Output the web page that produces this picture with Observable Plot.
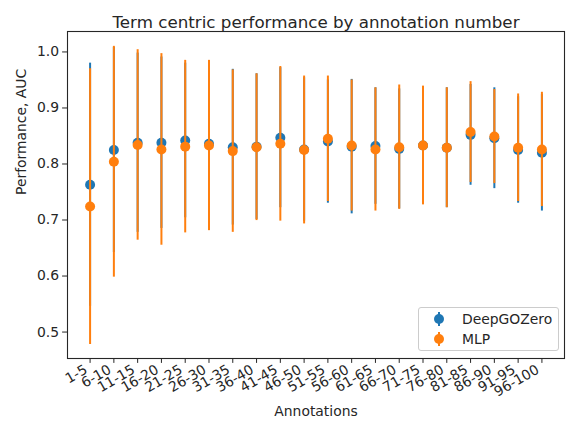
<!DOCTYPE html>
<html>
<head>
<meta charset="utf-8">
<script src="https://cdn.jsdelivr.net/npm/d3@7"></script>
<script src="https://cdn.jsdelivr.net/npm/@observablehq/plot@0.6"></script>
<style>
  body { margin: 0; background: #fff; }
  #chart { position: relative; width: 568px; height: 423px; font-family: "DejaVu Sans", sans-serif; color: #262626; }
  #legend { position: absolute; left: 418px; top: 306.5px; width: 139px; height: 42px; border: 1px solid #cccccc; border-radius: 3px; background: rgba(255,255,255,0.8); box-sizing: content-box; }
  .entry { position: absolute; left: 0; height: 20px; display: flex; align-items: center; font-size: 13.9px; }
  .entry svg { margin-left: 14px; margin-right: 17px; }
</style>
</head>
<body>
<div id="chart"></div>
<script>
const categories = ["1-5","6-10","11-15","16-20","21-25","26-30","31-35","36-40","41-45","46-50",
                    "51-55","56-60","61-65","66-70","71-75","76-80","81-85","86-90","91-95","96-100"];
const seriesNames = ["DeepGOZero", "MLP"];
const seriesColors = ["#1f77b4", "#ff7f0e"];
const deepgozeroMean = [0.763,0.825,0.838,0.838,0.842,0.836,0.830,0.831,0.847,0.826,
                        0.840,0.831,0.832,0.827,0.833,0.829,0.852,0.846,0.825,0.820];
const deepgozeroErr  = [0.217,0.183,0.160,0.153,0.138,0.146,0.139,0.130,0.125,0.128,
                        0.110,0.120,0.104,0.107,0.105,0.107,0.090,0.090,0.095,0.104];
const mlpMean = [0.724,0.804,0.834,0.826,0.831,0.833,0.823,0.830,0.836,0.825,
                 0.845,0.833,0.826,0.830,0.833,0.829,0.857,0.849,0.829,0.826];
const mlpErr  = [0.246,0.206,0.170,0.171,0.154,0.152,0.145,0.131,0.138,0.132,
                 0.112,0.117,0.110,0.111,0.106,0.107,0.090,0.084,0.096,0.102];
const yTicks = [0.5, 0.6, 0.7, 0.8, 0.9, 1.0];
const titleText = "Term centric performance by annotation number";
const yLabel = "Performance, AUC";
const xLabel = "Annotations";

function rowsFor(means, errs) {
  return categories.map((c, i) => ({cat: c, mean: means[i], lo: means[i] - errs[i], hi: means[i] + errs[i]}));
}
const deepRows = rowsFor(deepgozeroMean, deepgozeroErr);
const mlpRows = rowsFor(mlpMean, mlpErr);

const plot = Plot.plot({
  width: 568,
  height: 423,
  marginLeft: 67,
  marginRight: 4,
  marginTop: 31,
  marginBottom: 65,
  style: {fontFamily: "DejaVu Sans, sans-serif", fontSize: "13.9px", color: "#262626", background: "white", overflow: "visible"},
  x: {type: "point", domain: categories, padding: 0.95, round: false},
  y: {domain: [0.4528, 1.0365]},
  marks: [
    Plot.axisY({ticks: yTicks, tickFormat: d3.format(".1f"), tickSize: 4.9, tickPadding: 3.5, label: null}),
    Plot.axisX({tickSize: 4.9, tickFormat: () => "", label: null}),
    Plot.axisX({tickRotate: -30, tickSize: 0, tickPadding: 10, dx: -4, label: null}),
    Plot.ruleX(deepRows, {x: "cat", y1: "lo", y2: "hi", stroke: seriesColors[0], strokeWidth: 2}),
    Plot.dot(deepRows, {x: "cat", y: "mean", r: 5, fill: seriesColors[0]}),
    Plot.ruleX(mlpRows, {x: "cat", y1: "lo", y2: "hi", stroke: seriesColors[1], strokeWidth: 2}),
    Plot.dot(mlpRows, {x: "cat", y: "mean", r: 5, fill: seriesColors[1]}),
    Plot.frame({stroke: "#262626", strokeWidth: 1.1}),
    Plot.text([titleText], {frameAnchor: "top", dy: -15, fontSize: 16.7}),
    Plot.text([yLabel], {frameAnchor: "left", rotate: -90, dx: -45.5}),
    Plot.text([xLabel], {frameAnchor: "bottom", dy: 57})
  ]
});
const chart = document.getElementById("chart");
chart.appendChild(plot);

const legend = document.createElement("div");
legend.id = "legend";
seriesNames.forEach((name, i) => {
  const e = document.createElement("div");
  e.className = "entry";
  e.style.top = (1 + i * 20) + "px";
  e.innerHTML = `<svg width="12" height="16" viewBox="0 0 12 16"><line x1="6" x2="6" y1="1" y2="15" stroke="${seriesColors[i]}" stroke-width="2"/><circle cx="6" cy="8" r="5" fill="${seriesColors[i]}"/></svg><span>${name}</span>`;
  legend.appendChild(e);
});
chart.appendChild(legend);
</script>
</body>
</html>
